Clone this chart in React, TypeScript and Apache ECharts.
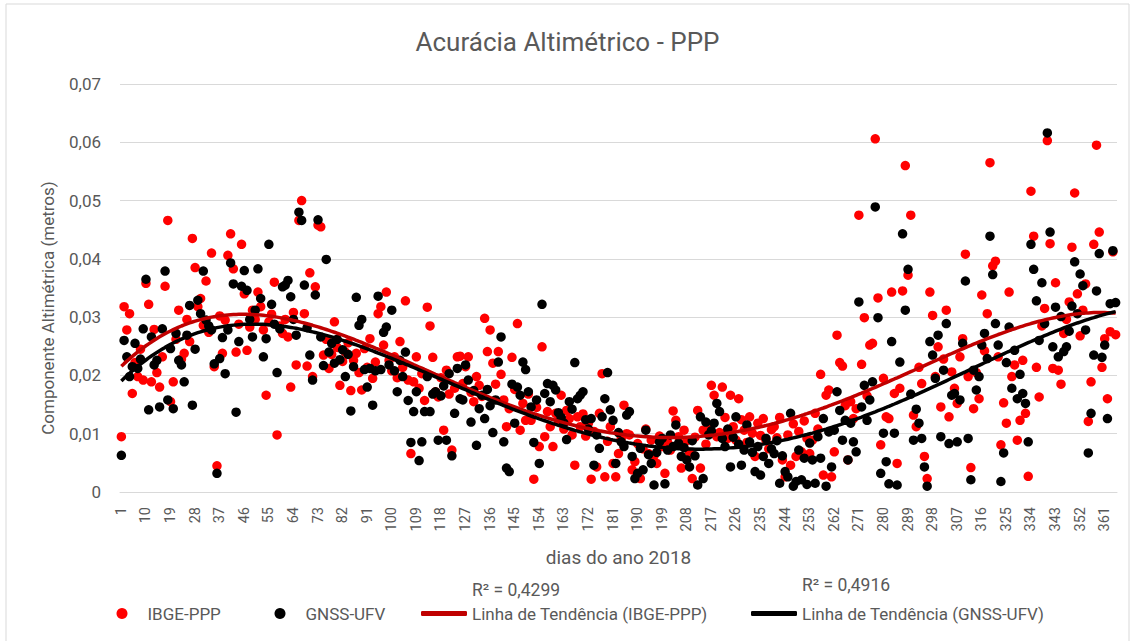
import React, { useEffect, useRef } from "react";
import * as echarts from "echarts";

const TITLE = "Acurácia Altimétrico - PPP";
const X_NAME = "dias do ano 2018";
const Y_NAME = "Componente Altimétrica (metros)";
const R2_IBGE = "R² = 0,4299";
const R2_GNSS = "R² = 0,4916";
const SERIES_NAMES = ["IBGE-PPP", "GNSS-UFV", "Linha de Tendência (IBGE-PPP)", "Linha de Tendência (GNSS-UFV)"];

const days: string[] = Array.from({ length: 365 }, (_, i) => String(i + 1));

const ibgePPP: number[] = [
  0.0095,0.0318,0.0278,0.0306,0.0169,0.0222,0.0198,0.0245,0.0192,0.0358,
  0.0322,0.0189,0.0279,0.0205,0.0180,0.0232,0.0353,0.0466,0.0155,0.0189,
  0.0262,0.0312,0.0228,0.0238,0.0296,0.0258,0.0435,0.0385,0.0318,0.0332,
  0.0286,0.0362,0.0274,0.0410,0.0215,0.0045,0.0302,0.0238,0.0295,0.0406,
  0.0443,0.0383,0.0240,0.0288,0.0425,0.0340,0.0243,0.0283,0.0312,0.0296,
  0.0343,0.0318,0.0278,0.0166,0.0292,0.0305,0.0360,0.0098,0.0285,0.0272,
  0.0296,0.0266,0.0180,0.0308,0.0218,0.0466,0.0500,0.0306,0.0216,0.0376,
  0.0198,0.0352,0.0458,0.0455,0.0235,0.0262,0.0212,0.0236,0.0292,0.0248,
  0.0183,0.0224,0.0240,0.0256,0.0174,0.0226,0.0238,0.0205,0.0175,0.0246,
  0.0214,0.0263,0.0195,0.0223,0.0306,0.0318,0.0252,0.0343,0.0226,0.0208,
  0.0232,0.0196,0.0258,0.0214,0.0328,0.0192,0.0066,0.0189,0.0232,0.0178,
  0.0203,0.0157,0.0317,0.0285,0.0231,0.0172,0.0163,0.0196,0.0106,0.0209,
  0.0168,0.0072,0.0178,0.0232,0.0233,0.0186,0.0215,0.0232,0.0171,0.0155,
  0.0198,0.0183,0.0164,0.0298,0.0241,0.0278,0.0221,0.0185,0.0241,0.0202,
  0.0158,0.0112,0.0143,0.0231,0.0176,0.0289,0.0106,0.0152,0.0123,0.0168,
  0.0123,0.0022,0.0145,0.0078,0.0249,0.0095,0.0138,0.0112,0.0078,0.0135,
  0.0121,0.0166,0.0108,0.0140,0.0126,0.0098,0.0046,0.0129,0.0112,0.0134,
  0.0096,0.0118,0.0022,0.0104,0.0043,0.0135,0.0203,0.0026,0.0087,0.0112,
  0.0049,0.0026,0.0066,0.0092,0.0149,0.0100,0.0098,0.0038,0.0052,0.0083,
  0.0023,0.0074,0.0108,0.0066,0.0089,0.0062,0.0049,0.0096,0.0078,0.0032,
  0.0085,0.0072,0.0139,0.0123,0.0095,0.0041,0.0106,0.0088,0.0068,0.0023,
  0.0094,0.0140,0.0041,0.0106,0.0082,0.0115,0.0183,0.0166,0.0095,0.0102,
  0.0180,0.0128,0.0092,0.0166,0.0112,0.0089,0.0160,0.0124,0.0106,0.0085,
  0.0129,0.0101,0.0061,0.0118,0.0097,0.0126,0.0089,0.0074,0.0107,0.0112,
  0.0093,0.0128,0.0055,0.0026,0.0098,0.0046,0.0117,0.0061,0.0104,0.0069,
  0.0122,0.0092,0.0066,0.0089,0.0135,0.0108,0.0202,0.0029,0.0166,0.0175,
  0.0026,0.0069,0.0269,0.0222,0.0216,0.0148,0.0055,0.0155,0.0126,0.0143,
  0.0475,0.0219,0.0299,0.0165,0.0252,0.0255,0.0606,0.0333,0.0081,0.0195,
  0.0129,0.0126,0.0343,0.0169,0.0049,0.0178,0.0345,0.0560,0.0372,0.0475,
  0.0132,0.0112,0.0214,0.0186,0.0061,0.0023,0.0343,0.0303,0.0198,0.0249,
  0.0146,0.0228,0.0312,0.0129,0.0206,0.0178,0.0152,0.0232,0.0263,0.0408,
  0.0198,0.0042,0.0143,0.0205,0.0160,0.0338,0.0242,0.0306,0.0565,0.0388,
  0.0396,0.0232,0.0081,0.0153,0.0118,0.0343,0.0198,0.0218,0.0089,0.0123,
  0.0226,0.0135,0.0027,0.0516,0.0439,0.0214,0.0163,0.0285,0.0315,0.0603,
  0.0426,0.0212,0.0359,0.0209,0.0185,0.0272,0.0296,0.0326,0.0420,0.0513,
  0.0340,0.0268,0.0312,0.0357,0.0121,0.0189,0.0425,0.0595,0.0446,0.0214,
  0.0263,0.0160,0.0275,0.0412,0.0270,
];

const gnssUFV: number[] = [
  0.0063,0.0260,0.0232,0.0198,0.0215,0.0255,0.0212,0.0228,0.0280,0.0365,
  0.0141,0.0266,0.0218,0.0226,0.0146,0.0280,0.0379,0.0158,0.0246,0.0143,
  0.0272,0.0226,0.0218,0.0189,0.0269,0.0320,0.0149,0.0245,0.0329,0.0306,
  0.0379,0.0295,0.0285,0.0278,0.0220,0.0032,0.0229,0.0265,0.0203,0.0278,
  0.0393,0.0357,0.0137,0.0258,0.0353,0.0380,0.0346,0.0296,0.0266,0.0312,
  0.0383,0.0332,0.0232,0.0263,0.0425,0.0322,0.0288,0.0205,0.0280,0.0352,
  0.0355,0.0363,0.0335,0.0296,0.0269,0.0480,0.0466,0.0355,0.0282,0.0235,
  0.0192,0.0338,0.0467,0.0266,0.0217,0.0399,0.0240,0.0255,0.0221,0.0262,
  0.0227,0.0244,0.0198,0.0236,0.0139,0.0215,0.0334,0.0286,0.0296,0.0210,
  0.0180,0.0212,0.0149,0.0208,0.0336,0.0210,0.0274,0.0283,0.0218,0.0312,
  0.0208,0.0172,0.0226,0.0198,0.0240,0.0157,0.0085,0.0138,0.0172,0.0054,
  0.0086,0.0138,0.0198,0.0138,0.0168,0.0172,0.0089,0.0165,0.0182,0.0089,
  0.0203,0.0062,0.0135,0.0212,0.0160,0.0158,0.0218,0.0192,0.0120,0.0174,
  0.0080,0.0143,0.0166,0.0126,0.0176,0.0148,0.0102,0.0158,0.0223,0.0266,
  0.0086,0.0041,0.0035,0.0185,0.0118,0.0180,0.0166,0.0223,0.0210,0.0172,
  0.0146,0.0085,0.0158,0.0049,0.0322,0.0169,0.0186,0.0155,0.0183,0.0175,
  0.0136,0.0128,0.0118,0.0090,0.0155,0.0142,0.0222,0.0160,0.0166,0.0172,
  0.0124,0.0108,0.0126,0.0046,0.0098,0.0075,0.0129,0.0160,0.0205,0.0141,
  0.0123,0.0049,0.0102,0.0086,0.0078,0.0132,0.0138,0.0061,0.0023,0.0032,
  0.0075,0.0038,0.0106,0.0064,0.0049,0.0012,0.0068,0.0086,0.0092,0.0014,
  0.0072,0.0098,0.0078,0.0115,0.0084,0.0061,0.0076,0.0055,0.0043,0.0088,
  0.0062,0.0012,0.0129,0.0023,0.0120,0.0098,0.0105,0.0118,0.0152,0.0138,
  0.0092,0.0078,0.0108,0.0043,0.0094,0.0129,0.0082,0.0046,0.0072,0.0115,
  0.0086,0.0068,0.0035,0.0078,0.0029,0.0061,0.0092,0.0049,0.0074,0.0066,
  0.0088,0.0015,0.0062,0.0035,0.0026,0.0135,0.0010,0.0018,0.0072,0.0021,
  0.0058,0.0013,0.0084,0.0055,0.0015,0.0095,0.0058,0.0126,0.0010,0.0103,
  0.0043,0.0106,0.0172,0.0140,0.0089,0.0123,0.0055,0.0118,0.0086,0.0069,
  0.0326,0.0146,0.0183,0.0123,0.0158,0.0189,0.0489,0.0299,0.0032,0.0101,
  0.0052,0.0014,0.0258,0.0101,0.0012,0.0223,0.0443,0.0312,0.0382,0.0168,
  0.0089,0.0142,0.0118,0.0092,0.0043,0.0010,0.0258,0.0235,0.0195,0.0269,
  0.0095,0.0209,0.0289,0.0083,0.0166,0.0169,0.0086,0.0158,0.0255,0.0362,
  0.0092,0.0021,0.0209,0.0175,0.0198,0.0252,0.0272,0.0229,0.0439,0.0373,
  0.0289,0.0252,0.0018,0.0067,0.0222,0.0283,0.0178,0.0243,0.0160,0.0202,
  0.0169,0.0152,0.0086,0.0425,0.0382,0.0328,0.0260,0.0359,0.0289,0.0616,
  0.0446,0.0249,0.0317,0.0232,0.0301,0.0241,0.0249,0.0276,0.0319,0.0395,
  0.0306,0.0374,0.0354,0.0278,0.0067,0.0135,0.0235,0.0345,0.0409,0.0231,
  0.0252,0.0126,0.0323,0.0414,0.0325,
];

const TREND_DEGREE = 4;

// Least-squares polynomial trend line computed from the series values.
function polyTrend(ys: number[], degree: number): number[] {
  const n = degree + 1;
  const c = (ys.length - 1) / 2;
  const A: number[][] = Array.from({ length: n }, () => new Array(n + 1).fill(0));
  ys.forEach((y, i) => {
    if (y == null) return;
    const t = (i - c) / c;
    const pw: number[] = [1];
    for (let k = 1; k < 2 * n; k++) pw[k] = pw[k - 1] * t;
    for (let r = 0; r < n; r++) {
      for (let col = 0; col < n; col++) A[r][col] += pw[r + col];
      A[r][n] += pw[r] * y;
    }
  });
  for (let i = 0; i < n; i++) {
    let p = i;
    for (let r = i + 1; r < n; r++) if (Math.abs(A[r][i]) > Math.abs(A[p][i])) p = r;
    [A[i], A[p]] = [A[p], A[i]];
    for (let r = 0; r < n; r++) {
      if (r === i) continue;
      const f = A[r][i] / A[i][i];
      for (let col = i; col <= n; col++) A[r][col] -= f * A[i][col];
    }
  }
  const coef = A.map((row, i) => row[n] / row[i]);
  return ys.map((_, i) => {
    const t = (i - c) / c;
    let s = 0;
    for (let k = n - 1; k >= 0; k--) s = s * t + coef[k];
    return +s.toFixed(5);
  });
}

const FONT = "Roboto, 'Noto Sans', sans-serif";
const TXT = "#595959";

export default function App() {
  const ref = useRef<HTMLDivElement>(null);
  useEffect(() => {
    if (!ref.current) return;
    const chart = echarts.init(ref.current, undefined, { renderer: "svg" });
    const trendIbge = polyTrend(ibgePPP, TREND_DEGREE);
    const trendGnss = polyTrend(gnssUFV, TREND_DEGREE);
    const legendText = { color: TXT, fontSize: 17, fontFamily: FONT };
    const legendBase = {
      top: 605,
      padding: 0,
      orient: "horizontal" as const,
      selectedMode: false,
      textStyle: legendText,
    };
    chart.setOption({
      animation: false,
      backgroundColor: "#ffffff",
      textStyle: { fontFamily: FONT },
      title: {
        text: TITLE,
        left: "center",
        top: 29,
        padding: 0,
        textStyle: { color: TXT, fontSize: 26, fontWeight: "normal", fontFamily: FONT },
      },
      grid: { left: 120, right: 18, top: 84, bottom: 149, containLabel: false },
      legend: [
        { ...legendBase, left: 116.5, data: [{ name: SERIES_NAMES[0], icon: "circle" }], itemWidth: 11, itemHeight: 11,
          textStyle: { ...legendText, padding: [0, 0, 0, 15] } },
        { ...legendBase, left: 274.5, data: [{ name: SERIES_NAMES[1], icon: "circle" }], itemWidth: 11, itemHeight: 11,
          textStyle: { ...legendText, padding: [0, 0, 0, 15] } },
        { ...legendBase, left: 421, data: [{ name: SERIES_NAMES[2], icon: "roundRect" }], itemWidth: 46, itemHeight: 5 },
        { ...legendBase, left: 751, data: [{ name: SERIES_NAMES[3], icon: "roundRect" }], itemWidth: 46, itemHeight: 5 },
      ],
      xAxis: {
        type: "category",
        data: days,
        boundaryGap: true,
        name: X_NAME,
        nameLocation: "middle",
        nameGap: 56,
        nameTextStyle: { color: TXT, fontSize: 19, fontFamily: FONT },
        axisLine: { show: true, lineStyle: { color: "#d9d9d9", width: 1 } },
        axisTick: { show: false },
        axisLabel: { interval: 8, rotate: 90, color: TXT, fontSize: 14.5, margin: 15, fontFamily: FONT },
        splitLine: { show: false },
      },
      yAxis: {
        type: "value",
        min: 0,
        max: 0.07,
        interval: 0.01,
        axisLine: { show: false },
        axisTick: { show: false },
        axisLabel: {
          color: TXT,
          fontSize: 17,
          margin: 19,
          fontFamily: FONT,
          formatter: (v: number) => (v === 0 ? "0" : v.toFixed(2).replace(".", ",")),
        },
        splitLine: { show: true, lineStyle: { color: "#d9d9d9", width: 1 } },
      },
      graphic: [
        {
          type: "rect",
          shape: { x: 6, y: 4, width: 1123, height: 660 },
          style: { fill: "none", stroke: "#d9d9d9", lineWidth: 1 },
          silent: true,
        },
        {
          type: "text",
          x: 48,
          y: 308,
          rotation: Math.PI / 2,
          style: { text: Y_NAME, fill: TXT, fontSize: 17, fontFamily: FONT, align: "center", verticalAlign: "middle" },
        },
        {
          type: "text",
          x: 472,
          y: 590,
          style: { text: R2_IBGE, fill: TXT, fontSize: 17.5, fontFamily: FONT, align: "left", verticalAlign: "middle" },
        },
        {
          type: "text",
          x: 802,
          y: 585,
          style: { text: R2_GNSS, fill: TXT, fontSize: 17.5, fontFamily: FONT, align: "left", verticalAlign: "middle" },
        },
      ],
      series: [
        {
          name: SERIES_NAMES[0],
          type: "scatter",
          data: ibgePPP,
          symbol: "circle",
          symbolSize: 9.5,
          itemStyle: { color: "#ff0000", opacity: 1 },
          z: 2,
        },
        {
          name: SERIES_NAMES[1],
          type: "scatter",
          data: gnssUFV,
          symbol: "circle",
          symbolSize: 9.5,
          itemStyle: { color: "#000000", opacity: 1 },
          z: 3,
        },
        {
          name: SERIES_NAMES[2],
          type: "line",
          data: trendIbge,
          showSymbol: false,
          symbol: "none",
          lineStyle: { color: "#c00000", width: 3.5 },
          itemStyle: { color: "#c00000" },
          z: 4,
        },
        {
          name: SERIES_NAMES[3],
          type: "line",
          data: trendGnss,
          showSymbol: false,
          symbol: "none",
          lineStyle: { color: "#000000", width: 3.5 },
          itemStyle: { color: "#000000" },
          z: 5,
        },
      ],
    });
    return () => chart.dispose();
  }, []);
  return (
    <div
      ref={ref}
      style={{ position: "fixed", left: 0, top: 0, width: 1135, height: 641, background: "#fff" }}
    />
  );
}
